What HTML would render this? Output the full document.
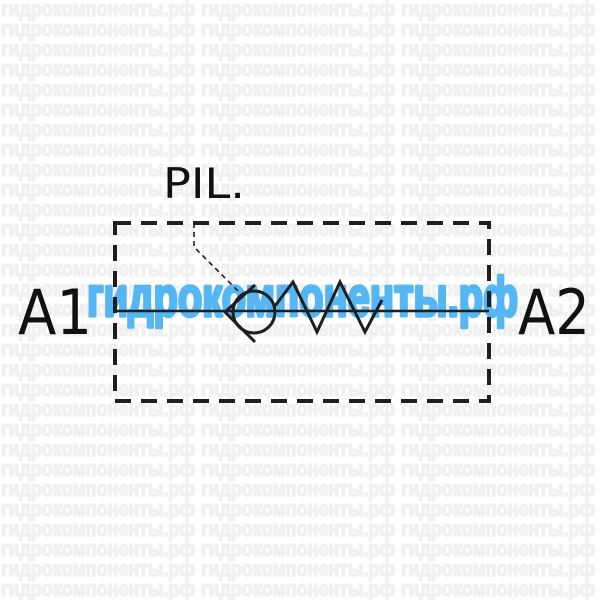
<!DOCTYPE html>
<html><head><meta charset="utf-8"><style>
html,body{margin:0;padding:0;background:#fff;}
svg{display:block;}
.wm{font-family:"Liberation Sans","DejaVu Sans",sans-serif;font-weight:bold;font-size:21px;fill:#f0f0f0;stroke:#f0f0f0;stroke-width:1.6;}
</style></head><body>
<svg width="600" height="600" viewBox="0 0 600 600" xmlns="http://www.w3.org/2000/svg">
<rect width="600" height="600" fill="#fff"/>
<g class="wm" id="wm"></g>
<script>
var g=document.getElementById('wm');var ns='http://www.w3.org/2000/svg';
for(var r=0;r<30;r++){for(var c=0;c<3;c++){var t=document.createElementNS(ns,'text');
t.setAttribute('x',c*200+1);t.setAttribute('y',16+r*20);t.setAttribute('textLength','194');
t.setAttribute('lengthAdjust','spacingAndGlyphs');t.textContent='гидрокомпоненты.рф';g.appendChild(t);}}
</script>
<text x="87" y="316" textLength="431" lengthAdjust="spacingAndGlyphs" font-family="Liberation Sans, DejaVu Sans, sans-serif" font-weight="bold" font-size="56" fill="#55b6f4" stroke="#55b6f4" stroke-width="3.5" stroke-linejoin="round">гидрокомпоненты.рф</text>
<g stroke="#1e1e1e" fill="none">
<rect x="115" y="223" width="374" height="178" stroke-width="4" stroke-dasharray="16,10"/>
<line x1="115" y1="311" x2="489" y2="311" stroke-width="2.5"/>
<polyline points="194,223 194,247 240,293" stroke-width="1.6" stroke-dasharray="5,4"/>
<circle cx="254" cy="312" r="21" stroke-width="3"/>
<polyline points="255,285 225,312 255,342" stroke-width="3"/>
<polyline points="275,306 293,282 317,332 340,282 365,332 382,300" stroke-width="3" stroke-linejoin="miter"/>
</g>
<g font-family="DejaVu Sans, sans-serif" fill="#111">
<text x="163" y="198" font-size="42" textLength="82" lengthAdjust="spacingAndGlyphs">PIL.</text>
<text x="18" y="334" font-size="62" textLength="74" lengthAdjust="spacingAndGlyphs">A1</text>
<text x="518" y="334" font-size="62" textLength="72" lengthAdjust="spacingAndGlyphs">A2</text>
</g>
</svg>
</body></html>
